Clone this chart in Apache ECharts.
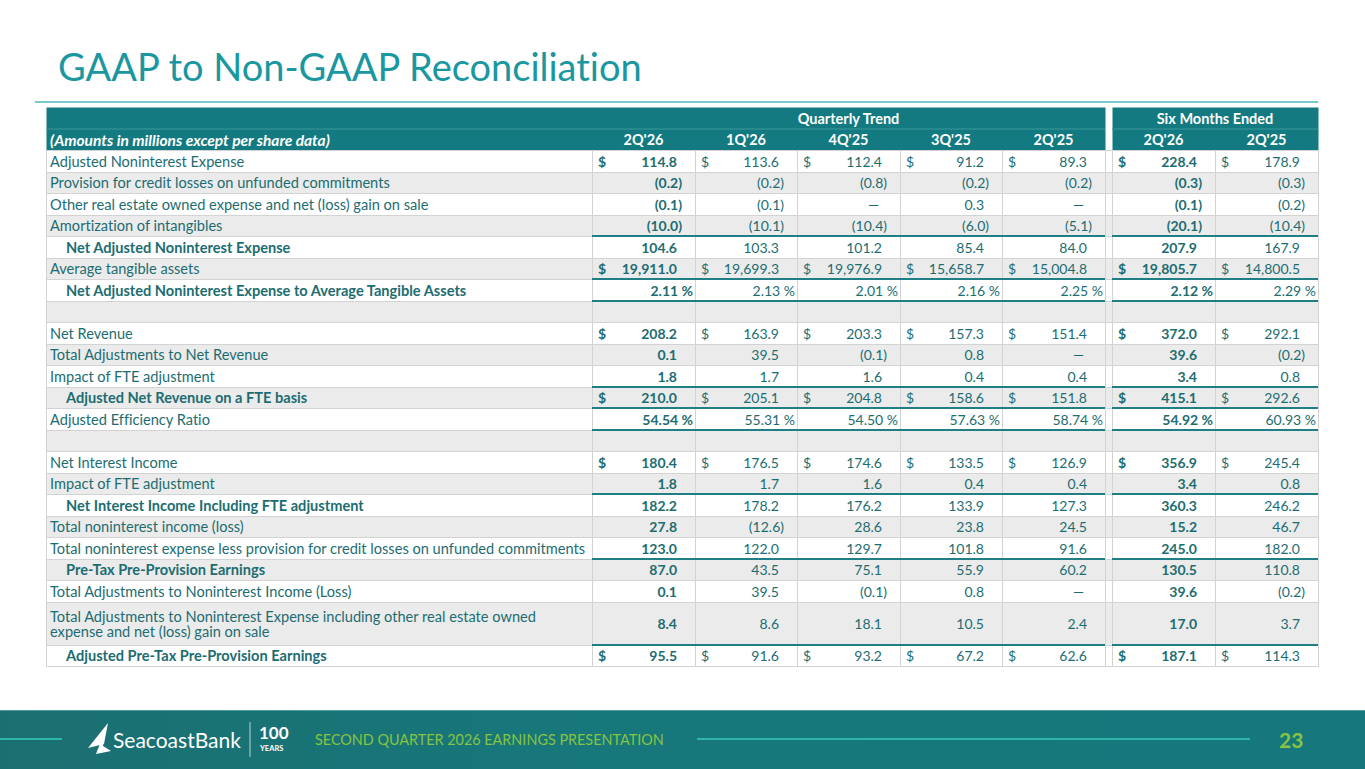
<!DOCTYPE html>
<html><head><meta charset="utf-8">
<script src="https://cdn.jsdelivr.net/npm/echarts@6/dist/echarts.min.js"></script>
<style>
html,body{margin:0;padding:0;background:#fff}
#c{width:1365px;height:769px}
#c text{font-variant-ligatures:none !important;font-feature-settings:"liga" 0,"clig" 0,"dlig" 0 !important}
</style>
</head><body><div id="c"></div>
<script>
// ---------------- data ----------------
const pageTitle = "GAAP to Non-GAAP Reconciliation";
const groupHeaders = ["Quarterly Trend", "Six Months Ended"];
const unitsNote = "(Amounts in millions except per share data)";
const columns = ["2Q'26", "1Q'26", "4Q'25", "3Q'25", "2Q'25", "2Q'26", "2Q'25"];
const rowLabels = [
  "Adjusted Noninterest Expense",
  "Provision for credit losses on unfunded commitments",
  "Other real estate owned expense and net (loss) gain on sale",
  "Amortization of intangibles",
  "Net Adjusted Noninterest Expense",
  "Average tangible assets",
  "Net Adjusted Noninterest Expense to Average Tangible Assets",
  "",
  "Net Revenue",
  "Total Adjustments to Net Revenue",
  "Impact of FTE adjustment",
  "Adjusted Net Revenue on a FTE basis",
  "Adjusted Efficiency Ratio",
  "",
  "Net Interest Income",
  "Impact of FTE adjustment",
  "Net Interest Income Including FTE adjustment",
  "Total noninterest income (loss)",
  "Total noninterest expense less provision for credit losses on unfunded commitments",
  "Pre-Tax Pre-Provision Earnings",
  "Total Adjustments to Noninterest Income (Loss)",
  "Total Adjustments to Noninterest Expense including other real estate owned\nexpense and net (loss) gain on sale",
  "Adjusted Pre-Tax Pre-Provision Earnings"
];
const rowValues = [
  [114.8, 113.6, 112.4, 91.2, 89.3, 228.4, 178.9],
  [-0.2, -0.2, -0.8, -0.2, -0.2, -0.3, -0.3],
  [-0.1, -0.1, 0, 0.3, 0, -0.1, -0.2],
  [-10.0, -10.1, -10.4, -6.0, -5.1, -20.1, -10.4],
  [104.6, 103.3, 101.2, 85.4, 84.0, 207.9, 167.9],
  [19911.0, 19699.3, 19976.9, 15658.7, 15004.8, 19805.7, 14800.5],
  [2.11, 2.13, 2.01, 2.16, 2.25, 2.12, 2.29],
  null,
  [208.2, 163.9, 203.3, 157.3, 151.4, 372.0, 292.1],
  [0.1, 39.5, -0.1, 0.8, 0, 39.6, -0.2],
  [1.8, 1.7, 1.6, 0.4, 0.4, 3.4, 0.8],
  [210.0, 205.1, 204.8, 158.6, 151.8, 415.1, 292.6],
  [54.54, 55.31, 54.50, 57.63, 58.74, 54.92, 60.93],
  null,
  [180.4, 176.5, 174.6, 133.5, 126.9, 356.9, 245.4],
  [1.8, 1.7, 1.6, 0.4, 0.4, 3.4, 0.8],
  [182.2, 178.2, 176.2, 133.9, 127.3, 360.3, 246.2],
  [27.8, -12.6, 28.6, 23.8, 24.5, 15.2, 46.7],
  [123.0, 122.0, 129.7, 101.8, 91.6, 245.0, 182.0],
  [87.0, 43.5, 75.1, 55.9, 60.2, 130.5, 110.8],
  [0.1, 39.5, -0.1, 0.8, 0, 39.6, -0.2],
  [8.4, 8.6, 18.1, 10.5, 2.4, 17.0, 3.7],
  [95.5, 91.6, 93.2, 67.2, 62.6, 187.1, 114.3]
];
const dollarRows = [0, 5, 8, 11, 14, 22];
const percentRows = [6, 12];
const subtotalRows = [4, 6, 11, 16, 19, 22];
const underlineAfter = [3, 5, 6, 10, 11, 12, 15, 18, 21];
const boldColumns = [0, 5];
const footerText = "SECOND QUARTER 2026 EARNINGS PRESENTATION";
const pageNumber = "23";

// ---------------- layout / style ----------------
const FONT = 'Lato';
const TEAL_TEXT = '#1c6d72';
const HEAD_BG = '#127a80';
const ALT_BG = '#ebebeb';
const GRID = '#d3d3d3';
const RULE = '#1f7f85';
const LABEL_SIZE = 14.6, NUM_SIZE = 14, HEAD_SIZE = 14.5, NOTE_SIZE = 15.5;
// column edges in table units (label | 5 quarterly | gap | 2 six-month)
const xEdges = [0, 546, 649, 751, 854, 956, 1059, 1066, 1169, 1272];
const slotOf = c => (c < 5 ? c + 1 : c + 2);
const rowSpan = rowLabels.map(l => (l.indexOf('\n') >= 0 ? 2 : 1));
const rowTop = [];
let acc = 2;
rowSpan.forEach((s, i) => { rowTop.push(acc); acc += s; });
const totalUnits = acc;

function fmt(v, pct) {
  if (v === 0) return { t: '\u2014', kind: 'dash' };
  const d = pct ? 2 : 1;
  let s = Math.abs(v).toLocaleString('en-US', { minimumFractionDigits: d, maximumFractionDigits: d });
  if (v < 0) s = '(' + s + ')';
  if (pct) return { t: s + ' %', kind: 'pct' };
  return { t: s, kind: v < 0 ? 'neg' : 'pos' };
}

// build cells
const cells = [];
cells.push({ x0: 0, x1: xEdges[6], y0: 0, y1: 2, fill: HEAD_BG });
cells.push({ x0: xEdges[7], x1: xEdges[9], y0: 0, y1: 2, fill: HEAD_BG });
cells.push({ x0: 0, x1: xEdges[6], y0: 1, y1: 1, line: '#3d979c' });
cells.push({ x0: xEdges[7], x1: xEdges[9], y0: 1, y1: 1, line: '#3d979c' });
cells.push({ x0: xEdges[1], x1: xEdges[6], y0: 0, y1: 1, text: groupHeaders[0], align: 'center', color: '#fff', bold: true, size: HEAD_SIZE });
cells.push({ x0: xEdges[7], x1: xEdges[9], y0: 0, y1: 1, text: groupHeaders[1], align: 'center', color: '#fff', bold: true, size: HEAD_SIZE });
cells.push({ x0: 0, x1: xEdges[1], y0: 1, y1: 2, text: unitsNote, align: 'left', pad: 4, color: '#fff', bold: true, italic: true, size: NOTE_SIZE });
columns.forEach((c, i) => {
  const s = slotOf(i);
  cells.push({ x0: xEdges[s], x1: xEdges[s + 1], y0: 1, y1: 2, text: c, align: 'center', color: '#fff', bold: true, size: HEAD_SIZE });
});
rowLabels.forEach((lab, r) => {
  const y0 = rowTop[r], y1 = rowTop[r] + rowSpan[r];
  const bg = r % 2 === 1 ? ALT_BG : '#ffffff';
  const sub = subtotalRows.indexOf(r) >= 0;
  cells.push({ x0: 0, x1: xEdges[9], y0, y1, fill: bg });
  for (let s = 0; s < 9; s++) {
    if (s === 6) { cells.push({ x0: xEdges[6], x1: xEdges[7], y0, y1, stroke: GRID, fill: bg }); continue; }
    cells.push({ x0: xEdges[s], x1: xEdges[s + 1], y0, y1, stroke: GRID });
  }
  cells.push({ x0: 0, x1: xEdges[1], y0, y1, text: lab, align: 'left', pad: sub ? 20 : 4, color: TEAL_TEXT, bold: sub, size: LABEL_SIZE });
  const vals = rowValues[r];
  if (!vals) return;
  const pct = percentRows.indexOf(r) >= 0;
  const dollar = dollarRows.indexOf(r) >= 0;
  vals.forEach((v, c) => {
    const s = slotOf(c);
    const f = fmt(v, pct);
    const bold = boldColumns.indexOf(c) >= 0;
    const pad = f.kind === 'pct' ? 2 : f.kind === 'neg' ? 13 : f.kind === 'dash' ? 21 : 18;
    cells.push({ x0: xEdges[s], x1: xEdges[s + 1], y0, y1, text: f.t, align: 'right', pad, color: TEAL_TEXT, bold, size: NUM_SIZE });
    if (dollar) cells.push({ x0: xEdges[s], x1: xEdges[s + 1], y0, y1, text: '$', align: 'left', pad: 6, color: TEAL_TEXT, bold, size: NUM_SIZE });
  });
});
cells.push({ x0: 0, x1: xEdges[9], y0: 2, y1: totalUnits, stroke: GRID });
underlineAfter.forEach(r => {
  const y = rowTop[r] + rowSpan[r];
  cells.push({ x0: xEdges[1], x1: xEdges[6], y0: y, y1: y, line: RULE, lw: 2 });
  cells.push({ x0: xEdges[7], x1: xEdges[9], y0: y, y1: y, line: RULE, lw: 2 });
});

function renderCell(params, api) {
  const c = cells[params.dataIndex];
  const p0 = api.coord([c.x0, c.y0]);
  const p1 = api.coord([c.x1, c.y1]);
  const x0 = Math.round(p0[0]), y0 = Math.round(p0[1]), x1 = Math.round(p1[0]), y1 = Math.round(p1[1]);
  const ch = [];
  if (c.fill || c.stroke) {
    ch.push({ type: 'rect', shape: { x: x0 + 0.5, y: y0 + 0.5, width: x1 - x0, height: y1 - y0 },
      style: { fill: c.fill || 'none', stroke: c.stroke || 'none', lineWidth: 1 } });
  }
  if (c.line) {
    ch.push({ type: 'line', shape: { x1: x0, y1: y0, x2: x1, y2: y0 }, style: { stroke: c.line, lineWidth: c.lw || 1 } });
  }
  if (c.text) {
    let tx;
    if (c.align === 'center') tx = (x0 + x1) / 2;
    else if (c.align === 'left') tx = x0 + c.pad;
    else tx = x1 - c.pad;
    ch.push({ type: 'text', style: {
      text: c.text, x: tx, y: (y0 + y1) / 2, align: c.align, verticalAlign: 'middle',
      fill: c.color, fontFamily: FONT, fontSize: c.size || 14, lineHeight: 15,
      fontWeight: c.bold ? 'bold' : 'normal', fontStyle: c.italic ? 'italic' : 'normal' } });
  }
  return { type: 'group', children: ch };
}

const chart = echarts.init(document.getElementById('c'), null, { renderer: 'svg' });
chart.setOption({
  animation: false,
  backgroundColor: '#ffffff',
  title: { text: pageTitle, left: 53, top: 42,
    textStyle: { fontFamily: FONT, fontSize: 38, fontWeight: 'normal', color: '#1a97a0' } },
  grid: { left: 46, top: 107, width: 1272, height: 559 },
  xAxis: { type: 'value', min: 0, max: xEdges[9], show: false },
  yAxis: { type: 'value', min: 0, max: totalUnits, inverse: true, show: false },
  series: [{
    type: 'custom', renderItem: renderCell, clip: false,
    data: cells.map(c => [c.x0, c.y0])
  }],
  graphic: [
    { type: 'line', shape: { x1: 35, y1: 102, x2: 1318, y2: 102 }, style: { stroke: '#49b7b8', lineWidth: 1.5 } },
    { type: 'rect', shape: { x: 0, y: 710, width: 1365, height: 59 },
      style: { fill: new echarts.graphic.LinearGradient(0, 0, 1, 0, [
        { offset: 0, color: '#1b6f71' }, { offset: 0.4, color: '#17777a' }, { offset: 1, color: '#16787c' }]) } },
    { type: 'line', shape: { x1: 0, y1: 710.5, x2: 1365, y2: 710.5 }, style: { stroke: '#4e9c9c', lineWidth: 1 } },
    { type: 'line', shape: { x1: 0, y1: 739, x2: 62, y2: 739 }, style: { stroke: '#2eb6ad', lineWidth: 2 } },
    { type: 'line', shape: { x1: 697, y1: 739, x2: 1250, y2: 739 }, style: { stroke: '#2eb6ad', lineWidth: 2 } },
    { type: 'polygon', shape: { points: [[108, 723], [88, 748], [104, 744]] }, style: { fill: '#ffffff' } },
    { type: 'polygon', shape: { points: [[106, 728], [103, 746], [111, 751], [96, 754]] }, style: { fill: '#ffffff' } },
    { type: 'text', style: { text: 'SeacoastBank', x: 113, y: 739, verticalAlign: 'middle', fill: '#ffffff',
      fontFamily: FONT, fontSize: 21, fontWeight: 'normal' } },
    { type: 'line', shape: { x1: 250, y1: 722, x2: 250, y2: 757 }, style: { stroke: 'rgba(255,255,255,0.7)', lineWidth: 1 } },
    { type: 'text', style: { text: '100', x: 259, y: 732, verticalAlign: 'middle', fill: '#ffffff',
      fontFamily: FONT, fontSize: 17, fontWeight: 'bold' } },
    { type: 'text', style: { text: 'YEARS', x: 260, y: 748, verticalAlign: 'middle', fill: '#ffffff',
      fontFamily: FONT, fontSize: 7.5, fontWeight: 'bold' } },
    { type: 'text', style: { text: footerText, x: 315, y: 739, verticalAlign: 'middle', fill: '#86c441',
      fontFamily: FONT, fontSize: 14.4, fontWeight: 'normal' } },
    { type: 'text', style: { text: pageNumber, x: 1279, y: 739, verticalAlign: 'middle', fill: '#86c441',
      fontFamily: FONT, fontSize: 21, fontWeight: 'bold' } }
  ]
});
</script></body></html>
